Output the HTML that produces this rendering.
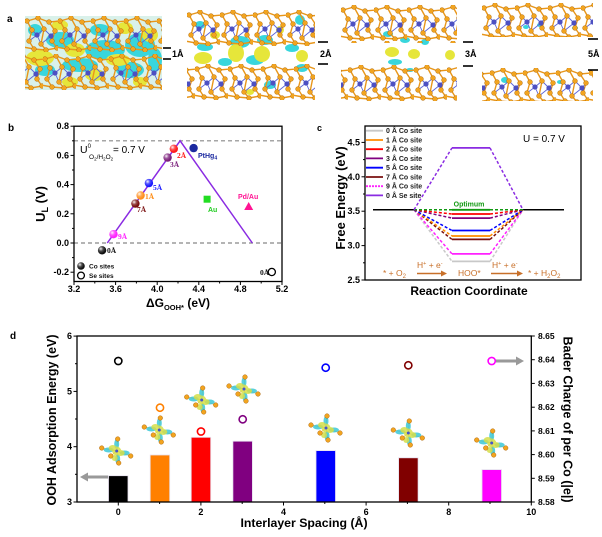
<!DOCTYPE html>
<html><head><meta charset="utf-8"><style>
html,body{margin:0;padding:0;background:#fff;}
svg{display:block;font-family:"Liberation Sans",Arial,sans-serif;}
</style></head><body>
<svg width="602" height="537" viewBox="0 0 602 537" xmlns="http://www.w3.org/2000/svg">
<defs>
<pattern id="lay" x="0" y="0" width="33" height="36" patternUnits="userSpaceOnUse">
 <g stroke="#5a63d8" stroke-width="0.9">
  <line x1="12" y1="19" x2="7" y2="14"/><line x1="12" y1="19" x2="19" y2="13"/><line x1="12" y1="19" x2="4" y2="25"/><line x1="12" y1="19" x2="16" y2="28"/>
  <line x1="26" y1="20" x2="19" y2="13"/><line x1="26" y1="20" x2="30" y2="15"/><line x1="26" y1="20" x2="16" y2="28"/><line x1="26" y1="20" x2="27" y2="25"/>
 </g>
 <g stroke="#e8961a" stroke-width="1.4" fill="none">
  <polyline points="-1,3 2,5 13,2 24,6 35,5"/>
  <line x1="2" y1="5" x2="7" y2="14"/><line x1="13" y1="2" x2="19" y2="13"/><line x1="24" y1="6" x2="30" y2="15"/>
  <line x1="7" y1="14" x2="4" y2="25"/><line x1="19" y1="13" x2="16" y2="28"/><line x1="30" y1="15" x2="27" y2="25"/>
  <line x1="4" y1="25" x2="9" y2="33"/><line x1="16" y1="28" x2="21" y2="34"/><line x1="27" y1="25" x2="32" y2="32"/>
  <polyline points="-2,31 9,33 21,34 32,32 35,33"/>
 </g>
 <g fill="#f2a41f" stroke="#b26c0c" stroke-width="0.5">
  <circle cx="2" cy="5" r="2.4"/><circle cx="13" cy="2" r="2.4"/><circle cx="24" cy="6" r="2.4"/>
  <circle cx="7" cy="14" r="2.4"/><circle cx="19" cy="13" r="2.4"/><circle cx="30" cy="15" r="2.4"/>
  <circle cx="4" cy="25" r="2.4"/><circle cx="16" cy="28" r="2.4"/><circle cx="27" cy="25" r="2.4"/>
  <circle cx="9" cy="33" r="2.4"/><circle cx="21" cy="34" r="2.4"/><circle cx="32" cy="32" r="2.4"/>
 </g>
 <g fill="#4d50c2"><circle cx="12" cy="19" r="2.6"/><circle cx="26" cy="20" r="2.6"/></g>
</pattern>
<radialGradient id="hl" cx="0.35" cy="0.32" r="0.55">
 <stop offset="0" stop-color="#fff" stop-opacity="0.95"/>
 <stop offset="0.5" stop-color="#fff" stop-opacity="0.25"/>
 <stop offset="1" stop-color="#fff" stop-opacity="0"/>
</radialGradient>
<g id="ic">
 <g stroke="#f0b040" stroke-width="0.8"><line x1="0" y1="0" x2="1" y2="-12"/><line x1="0" y1="0" x2="-15" y2="-3"/><line x1="0" y1="0" x2="14" y2="5"/><line x1="0" y1="0" x2="2" y2="12"/><line x1="0" y1="0" x2="-6" y2="5"/></g>
 <g fill="#3cc8d8" opacity="0.85"><ellipse cx="0" cy="-7" rx="2.5" ry="5"/><ellipse cx="1" cy="8" rx="2.5" ry="5"/><ellipse cx="-8" cy="-1" rx="5" ry="2.5"/><ellipse cx="8" cy="2" rx="5" ry="2.5"/></g>
 <g fill="#d6df4a" opacity="0.85"><ellipse cx="-4" cy="-3" rx="4" ry="3"/><ellipse cx="4" cy="2" rx="4" ry="3"/><circle cx="0" cy="0" r="4.5"/><ellipse cx="-2" cy="7" rx="3" ry="3"/></g>
 <circle cx="0" cy="0" r="1.5" fill="#4455cc"/>
 <g fill="#f2a41f" stroke="#b06a10" stroke-width="0.5"><circle cx="1" cy="-12" r="2.3"/><circle cx="-15" cy="-3" r="2.3"/><circle cx="-6" cy="5" r="2.3"/><circle cx="14" cy="5" r="2.3"/><circle cx="2" cy="12" r="2.3"/></g>
</g>
</defs>

<!-- ================= Panel a ================= -->
<text x="7" y="22" font-size="10" font-weight="bold">a</text>
<!-- panel a1 -->
<g>
 <rect x="25" y="16" width="137" height="74" fill="#d9f1ea"/>
 <g fill="#38d6dc">
  <ellipse cx="60" cy="40" rx="14" ry="8"/><ellipse cx="105" cy="50" rx="20" ry="10"/><ellipse cx="140" cy="45" rx="15" ry="12"/>
  <ellipse cx="80" cy="65" rx="18" ry="7"/><ellipse cx="130" cy="70" rx="14" ry="8"/><ellipse cx="45" cy="70" rx="10" ry="6"/>
  <ellipse cx="100" cy="30" rx="10" ry="6"/><ellipse cx="155" cy="60" rx="7" ry="12"/><ellipse cx="35" cy="30" rx="7" ry="6"/>
 </g>
 <g fill="#e6e63a">
  <ellipse cx="40" cy="58" rx="14" ry="8"/><ellipse cx="75" cy="50" rx="10" ry="7"/><ellipse cx="118" cy="60" rx="12" ry="6"/>
  <ellipse cx="95" cy="75" rx="10" ry="6"/><ellipse cx="150" cy="35" rx="8" ry="7"/><ellipse cx="60" cy="25" rx="8" ry="5"/>
  <ellipse cx="125" cy="28" rx="8" ry="6"/><ellipse cx="70" cy="82" rx="8" ry="5"/><ellipse cx="140" cy="82" rx="7" ry="5"/>
 </g>
 <g transform="translate(25,16)"><rect x="0" y="0" width="137" height="36" fill="url(#lay)"/></g>
 <g transform="translate(10,54)"><rect x="15" y="0" width="137" height="36" fill="url(#lay)"/></g>
</g>
<g stroke="#000" stroke-width="1.6"><line x1="163" y1="48" x2="171" y2="48"/><line x1="163" y1="59" x2="171" y2="59"/></g>
<text x="172" y="57" font-size="9" font-weight="bold">1Å</text>
<!-- panel a2 -->
<g>
 <g fill="#38d6dc">
  <ellipse cx="205" cy="47" rx="8" ry="4"/><ellipse cx="240" cy="42" rx="10" ry="6"/><ellipse cx="265" cy="40" rx="8" ry="5"/>
  <ellipse cx="292" cy="48" rx="7" ry="4"/><ellipse cx="225" cy="62" rx="7" ry="4"/><ellipse cx="255" cy="60" rx="9" ry="5"/>
  <ellipse cx="302" cy="68" rx="6" ry="4"/><ellipse cx="200" cy="25" rx="5" ry="4"/><ellipse cx="300" cy="20" rx="5" ry="5"/><ellipse cx="270" cy="85" rx="6" ry="4"/>
 </g>
 <g fill="#e6e63a">
  <ellipse cx="203" cy="58" rx="9" ry="6"/><ellipse cx="236" cy="53" rx="8" ry="9"/><ellipse cx="262" cy="54" rx="8" ry="8"/>
  <ellipse cx="302" cy="56" rx="6" ry="6"/><ellipse cx="215" cy="35" rx="5" ry="4"/><ellipse cx="280" cy="30" rx="4" ry="4"/><ellipse cx="250" cy="92" rx="4" ry="3"/>
 </g>
 <g transform="translate(187,10)"><rect x="0" y="0" width="128" height="36" fill="url(#lay)"/></g>
 <g transform="translate(195,64)"><rect x="-8" y="0" width="128" height="36" fill="url(#lay)"/></g>
</g>
<g stroke="#000" stroke-width="1.6"><line x1="318" y1="42" x2="328" y2="42"/><line x1="318" y1="64" x2="328" y2="64"/></g>
<text x="320" y="57" font-size="9" font-weight="bold">2Å</text>
<!-- panel a3 -->
<g>
 <g fill="#38d6dc"><ellipse cx="395" cy="62" rx="7" ry="3"/><ellipse cx="405" cy="40" rx="5" ry="3"/><ellipse cx="388" cy="34" rx="5" ry="3"/><ellipse cx="425" cy="42" rx="4" ry="3"/><ellipse cx="410" cy="70" rx="4" ry="2"/></g>
 <g fill="#e6e63a"><ellipse cx="392" cy="52" rx="7" ry="5"/><ellipse cx="414" cy="54" rx="6" ry="5"/><ellipse cx="450" cy="55" rx="5" ry="5"/></g>
 <g transform="translate(341,5)"><rect x="0" y="0" width="116" height="38" fill="url(#lay)"/></g>
 <g transform="translate(348,65)"><rect x="-7" y="0" width="116" height="36" fill="url(#lay)"/></g>
</g>
<g stroke="#000" stroke-width="1.6"><line x1="463" y1="42" x2="473" y2="42"/><line x1="463" y1="66" x2="473" y2="66"/></g>
<text x="465" y="57" font-size="9" font-weight="bold">3Å</text>
<!-- panel a4 -->
<g>
 <g fill="#38d6dc"><ellipse cx="526" cy="27" rx="3" ry="2"/><ellipse cx="540" cy="25" rx="3" ry="2"/><ellipse cx="575" cy="28" rx="3" ry="2"/><ellipse cx="505" cy="80" rx="4" ry="3"/><ellipse cx="560" cy="82" rx="3" ry="2"/></g>
 <g transform="translate(482,3)"><rect x="0" y="0" width="111" height="34" fill="url(#lay)"/></g>
 <g transform="translate(490,68)"><rect x="-8" y="0" width="111" height="33" fill="url(#lay)"/></g>
</g>
<g stroke="#000" stroke-width="1.6"><line x1="588" y1="39" x2="598" y2="39"/><line x1="588" y1="70" x2="598" y2="70"/></g>
<text x="588" y="57" font-size="9" font-weight="bold">5Å</text>

<!-- ================= Panel b ================= -->
<text x="8" y="131" font-size="10" font-weight="bold">b</text>
<g stroke="#888" stroke-width="1.2" stroke-dasharray="4,3">
 <line x1="74" y1="140.8" x2="282" y2="140.8"/><line x1="74" y1="243" x2="282" y2="243"/>
</g>
<polyline points="107.3,243 180.1,140.8 252.3,243" fill="none" stroke="#8a2be2" stroke-width="1.5"/>
<rect x="74" y="126.2" width="208" height="155.3" fill="none" stroke="#000" stroke-width="1.3"/>
<g stroke="#000" stroke-width="1">
 <line x1="74" y1="272.2" x2="70.5" y2="272.2"/><line x1="74" y1="243" x2="70.5" y2="243"/><line x1="74" y1="213.8" x2="70.5" y2="213.8"/>
 <line x1="74" y1="184.6" x2="70.5" y2="184.6"/><line x1="74" y1="155.4" x2="70.5" y2="155.4"/><line x1="74" y1="126.2" x2="70.5" y2="126.2"/>
 <line x1="74" y1="257.6" x2="72" y2="257.6"/><line x1="74" y1="228.4" x2="72" y2="228.4"/><line x1="74" y1="199.2" x2="72" y2="199.2"/><line x1="74" y1="170" x2="72" y2="170"/><line x1="74" y1="140.8" x2="72" y2="140.8"/>
 <line x1="74" y1="281.5" x2="74" y2="285"/><line x1="115.6" y1="281.5" x2="115.6" y2="285"/><line x1="157.2" y1="281.5" x2="157.2" y2="285"/>
 <line x1="198.8" y1="281.5" x2="198.8" y2="285"/><line x1="240.4" y1="281.5" x2="240.4" y2="285"/><line x1="282" y1="281.5" x2="282" y2="285"/>
 <line x1="94.8" y1="281.5" x2="94.8" y2="283.5"/><line x1="136.4" y1="281.5" x2="136.4" y2="283.5"/><line x1="178" y1="281.5" x2="178" y2="283.5"/><line x1="219.6" y1="281.5" x2="219.6" y2="283.5"/><line x1="261.2" y1="281.5" x2="261.2" y2="283.5"/>
</g>
<g font-size="9" font-weight="bold" text-anchor="end">
 <text x="69" y="275.2">-0.2</text><text x="69" y="246">0.0</text><text x="69" y="216.8">0.2</text>
 <text x="69" y="187.6">0.4</text><text x="69" y="158.4">0.6</text><text x="69" y="129.2">0.8</text>
</g>
<g font-size="9" font-weight="bold" text-anchor="middle">
 <text x="74" y="292">3.2</text><text x="115.6" y="292">3.6</text><text x="157.2" y="292">4.0</text>
 <text x="198.8" y="292">4.4</text><text x="240.4" y="292">4.8</text><text x="282" y="292">5.2</text>
</g>
<text transform="translate(45,204) rotate(-90)" font-size="13" font-weight="bold" text-anchor="middle">U<tspan font-size="9" dy="3">L</tspan><tspan dy="-3"> (V)</tspan></text>
<text x="178" y="307" font-size="12" font-weight="bold" text-anchor="middle">ΔG<tspan font-size="7.5" dy="3">OOH*</tspan><tspan dy="-3"> (eV)</tspan></text>
<text x="80" y="153" font-size="10.5">U<tspan font-size="6" dy="-5">0</tspan></text>
<text x="89" y="159" font-size="6.5">O<tspan font-size="4.5" dy="1.5">2</tspan><tspan dy="-1.5">/H</tspan><tspan font-size="4.5" dy="1.5">2</tspan><tspan dy="-1.5">O</tspan><tspan font-size="4.5" dy="1.5">2</tspan></text>
<text x="113" y="153" font-size="10">= 0.7 V</text>
<!-- data markers -->
<g>
 <circle cx="173.8" cy="148.8" r="4.2" fill="#ff1a1a"/><circle cx="173.8" cy="148.8" r="4.2" fill="url(#hl)"/>
 <circle cx="167.6" cy="157.6" r="4.2" fill="#7b1f7b"/><circle cx="167.6" cy="157.6" r="4.2" fill="url(#hl)"/>
 <circle cx="193.6" cy="148.1" r="4.2" fill="#1c2aa0"/>
 <circle cx="148.9" cy="183.1" r="4.2" fill="#1a1aff"/><circle cx="148.9" cy="183.1" r="4.2" fill="url(#hl)"/>
 <circle cx="140.6" cy="195.5" r="4.2" fill="#ff9020"/><circle cx="140.6" cy="195.5" r="4.2" fill="url(#hl)"/>
 <circle cx="135.4" cy="203.6" r="4.2" fill="#7a1010"/><circle cx="135.4" cy="203.6" r="4.2" fill="url(#hl)"/>
 <circle cx="113.5" cy="234.2" r="4.2" fill="#ff22ff"/><circle cx="113.5" cy="234.2" r="4.2" fill="url(#hl)"/>
 <circle cx="102.1" cy="250.3" r="4.2" fill="#111"/><circle cx="102.1" cy="250.3" r="4.2" fill="url(#hl)"/>
 <rect x="203.6" y="195.7" width="7" height="7" fill="#22dd22"/>
 <polygon points="248.7,202 253.2,210 244.2,210" fill="#ff1493"/>
 <circle cx="271.8" cy="272" r="3.6" fill="none" stroke="#000" stroke-width="1.3"/>
 <circle cx="81" cy="266" r="3.8" fill="#111"/><circle cx="81" cy="266" r="3.8" fill="url(#hl)"/>
 <circle cx="81" cy="275.5" r="3.4" fill="none" stroke="#000" stroke-width="1.3"/>
</g>
<g font-size="7.5" font-weight="bold" font-family="Liberation Serif, serif">
 <text x="177" y="158" fill="#ff1a1a">2Å</text>
 <text x="170" y="167" fill="#7b1f7b">3Å</text>
 <text x="153" y="190" fill="#1a1aff">5Å</text>
 <text x="145" y="199" fill="#ff8a10">1Å</text>
 <text x="137" y="212" fill="#7a1010">7Å</text>
 <text x="118" y="239" fill="#ff22ff">9Å</text>
 <text x="107" y="253" fill="#111">0Å</text>
 <text x="260" y="275" fill="#111">0Å</text>
</g>
<g font-size="7" font-weight="bold">
 <text x="198" y="158" fill="#1c2aa0">PtHg<tspan font-size="5" dy="1.5">4</tspan></text>
 <text x="208" y="212" fill="#22cc22">Au</text>
 <text x="238" y="199" fill="#ff1493">Pd/Au</text>
 <text x="89" y="268.5" font-size="6.5" fill="#111">Co sites</text>
 <text x="89" y="278" font-size="6.5" fill="#111">Se sites</text>
</g>

<!-- ================= Panel c ================= -->
<text x="317" y="131" font-size="9" font-weight="bold">c</text>
<g stroke="#000" stroke-width="1.5"><line x1="373" y1="209.8" x2="414" y2="209.8"/><line x1="523" y1="209.8" x2="564" y2="209.8"/></g>
<g fill="none" stroke-width="1.5" stroke-dasharray="3,2">
 <polyline stroke="#c8c8c8" points="414,209.8 452,261.4"/><polyline stroke="#c8c8c8" points="490,261.4 523,209.8"/>
 <polyline stroke="#ff22ff" points="414,209.8 452,253.9"/><polyline stroke="#ff22ff" points="490,253.9 523,209.8"/>
 <polyline stroke="#7a1010" points="414,209.8 452,239.4"/><polyline stroke="#7a1010" points="490,239.4 523,209.8"/>
 <polyline stroke="#ff8c00" points="414,209.8 452,236"/><polyline stroke="#ff8c00" points="490,236 523,209.8"/>
 <polyline stroke="#0000ff" points="414,209.8 452,230.5"/><polyline stroke="#0000ff" points="490,230.5 523,209.8"/>
 <polyline stroke="#800080" points="414,209.8 452,218.1"/><polyline stroke="#800080" points="490,218.1 523,209.8"/>
 <polyline stroke="#ff0000" points="414,209.8 452,214"/><polyline stroke="#ff0000" points="490,214 523,209.8"/>
 <polyline stroke="#119911" points="414,209.8 452,209.8"/><polyline stroke="#119911" points="490,209.8 523,209.8"/>
 <polyline stroke="#8a2be2" points="414,209.8 452,147.9"/><polyline stroke="#8a2be2" points="490,147.9 523,209.8"/>
</g>
<g stroke-width="1.8">
 <line x1="452" y1="261.4" x2="490" y2="261.4" stroke="#c8c8c8"/>
 <line x1="452" y1="253.9" x2="490" y2="253.9" stroke="#ff22ff"/>
 <line x1="452" y1="239.4" x2="490" y2="239.4" stroke="#7a1010"/>
 <line x1="452" y1="236" x2="490" y2="236" stroke="#ff8c00"/>
 <line x1="452" y1="230.5" x2="490" y2="230.5" stroke="#0000ff"/>
 <line x1="452" y1="218.1" x2="490" y2="218.1" stroke="#800080"/>
 <line x1="452" y1="214" x2="490" y2="214" stroke="#ff0000"/>
 <line x1="452" y1="209.8" x2="490" y2="209.8" stroke="#119911"/>
 <line x1="452" y1="147.9" x2="490" y2="147.9" stroke="#8a2be2"/>
</g>
<text x="469" y="206.5" font-size="7" font-weight="bold" fill="#119911" text-anchor="middle">Optimum</text>
<rect x="365" y="126" width="216" height="154" fill="none" stroke="#000" stroke-width="1.3"/>
<g stroke="#000" stroke-width="1">
 <line x1="365" y1="280" x2="361.5" y2="280"/><line x1="365" y1="245.6" x2="361.5" y2="245.6"/><line x1="365" y1="211.2" x2="361.5" y2="211.2"/>
 <line x1="365" y1="176.8" x2="361.5" y2="176.8"/><line x1="365" y1="142.4" x2="361.5" y2="142.4"/>
 <line x1="365" y1="262.8" x2="363" y2="262.8"/><line x1="365" y1="228.4" x2="363" y2="228.4"/><line x1="365" y1="194" x2="363" y2="194"/><line x1="365" y1="159.6" x2="363" y2="159.6"/>
</g>
<g font-size="9" font-weight="bold" text-anchor="end">
 <text x="360" y="283">2.5</text><text x="360" y="248.6">3.0</text><text x="360" y="214.2">3.5</text><text x="360" y="179.8">4.0</text><text x="360" y="145.4">4.5</text>
</g>
<text transform="translate(345,198) rotate(-90)" font-size="13" font-weight="bold" text-anchor="middle">Free Energy (eV)</text>
<text x="469" y="295" font-size="12" font-weight="bold" text-anchor="middle">Reaction Coordinate</text>
<text x="523" y="142" font-size="10">U = 0.7 V</text>
<!-- legend c -->
<g stroke-width="1.8">
 <line x1="366" y1="130.7" x2="383" y2="130.7" stroke="#c8c8c8"/>
 <line x1="366" y1="140" x2="383" y2="140" stroke="#ff8c00"/>
 <line x1="366" y1="149.2" x2="383" y2="149.2" stroke="#ff0000"/>
 <line x1="366" y1="158.4" x2="383" y2="158.4" stroke="#800080"/>
 <line x1="366" y1="167.7" x2="383" y2="167.7" stroke="#0000ff"/>
 <line x1="366" y1="177" x2="383" y2="177" stroke="#7a1010"/>
 <line x1="366" y1="186.2" x2="383" y2="186.2" stroke="#ff22ff" stroke-dasharray="2,1"/>
 <line x1="366" y1="195.4" x2="383" y2="195.4" stroke="#8a2be2"/>
</g>
<g font-size="7" font-weight="bold" fill="#222">
 <text x="386" y="133.2">0 Å Co site</text><text x="386" y="142.5">1 Å Co site</text><text x="386" y="151.7">2 Å Co site</text>
 <text x="386" y="160.9">3 Å Co site</text><text x="386" y="170.2">5 Å Co site</text><text x="386" y="179.5">7 Å Co site</text>
 <text x="386" y="188.7">9 Å Co site</text><text x="386" y="197.9">0 Å Se site</text>
</g>
<!-- reaction annotations -->
<g fill="#c8702a" font-size="8.5">
 <text x="383" y="276">* + O<tspan font-size="6" dy="2">2</tspan></text>
 <text x="417" y="268">H<tspan font-size="5.5" dy="-3">+</tspan><tspan dy="3"> + e</tspan><tspan font-size="5.5" dy="-3">-</tspan></text>
 <text x="458" y="276">HOO*</text>
 <text x="492" y="268">H<tspan font-size="5.5" dy="-3">+</tspan><tspan dy="3"> + e</tspan><tspan font-size="5.5" dy="-3">-</tspan></text>
 <text x="528" y="276">* + H<tspan font-size="6" dy="2">2</tspan><tspan dy="-2">O</tspan><tspan font-size="6" dy="2">2</tspan></text>
</g>
<g stroke="#c8702a" stroke-width="1.5"><line x1="417" y1="273.5" x2="442" y2="273.5"/><line x1="491" y1="273.5" x2="518" y2="273.5"/></g>
<g fill="#c8702a"><polygon points="447,273.5 441,270.5 441,276.5"/><polygon points="523,273.5 517,270.5 517,276.5"/></g>

<!-- ================= Panel d ================= -->
<text x="10" y="339" font-size="10" font-weight="bold">d</text>
<!-- bars -->
<g stroke="#e6e0ee" stroke-width="0.8">
 <rect x="108.5" y="475.7" width="19.5" height="26.3" fill="#000000"/>
 <rect x="150.2" y="455" width="19.5" height="47" fill="#ff8000"/>
 <rect x="191.2" y="437.3" width="19.5" height="64.7" fill="#ff0000"/>
 <rect x="232.9" y="441.2" width="19.5" height="60.8" fill="#800080"/>
 <rect x="316" y="450.6" width="19.5" height="51.4" fill="#0000ff"/>
 <rect x="398.6" y="457.8" width="19.5" height="44.2" fill="#800000"/>
 <rect x="482" y="469.6" width="19.5" height="32.4" fill="#ff00ff"/>
</g>
<!-- icons -->
<use href="#ic" x="116.7" y="451"/>
<use href="#ic" x="159.3" y="430"/>
<use href="#ic" x="201.7" y="400"/>
<use href="#ic" x="244" y="389"/>
<use href="#ic" x="326" y="428"/>
<use href="#ic" x="408.3" y="433"/>
<use href="#ic" x="491.7" y="443"/>
<!-- bader circles -->
<g fill="none" stroke-width="1.6">
 <circle cx="118.3" cy="361" r="3.6" stroke="#000"/>
 <circle cx="160" cy="407.7" r="3.6" stroke="#ff8000"/>
 <circle cx="201" cy="431.5" r="3.6" stroke="#ff0000"/>
 <circle cx="242.7" cy="419.3" r="3.6" stroke="#800080"/>
 <circle cx="325.7" cy="367.7" r="3.6" stroke="#0000ff"/>
 <circle cx="408.3" cy="365.3" r="3.6" stroke="#800000"/>
 <circle cx="491.7" cy="361" r="3.6" stroke="#ff00ff"/>
</g>
<!-- gray arrows -->
<g stroke="#999" stroke-width="3"><line x1="108" y1="477" x2="86" y2="477"/><line x1="496" y1="361" x2="517" y2="361"/></g>
<g fill="#999"><polygon points="80,477 88,472.5 88,481.5"/><polygon points="524,361 516,356.5 516,365.5"/></g>
<rect x="77" y="336" width="454.3" height="166" fill="none" stroke="#000" stroke-width="1.3"/>
<g stroke="#000" stroke-width="1">
 <line x1="77" y1="502" x2="73.5" y2="502"/><line x1="77" y1="446.7" x2="73.5" y2="446.7"/><line x1="77" y1="391.4" x2="73.5" y2="391.4"/><line x1="77" y1="336.1" x2="73.5" y2="336.1"/>
 <line x1="77" y1="474.3" x2="75" y2="474.3"/><line x1="77" y1="419" x2="75" y2="419"/><line x1="77" y1="363.7" x2="75" y2="363.7"/>
 <line x1="118.3" y1="502" x2="118.3" y2="505.5"/><line x1="200.9" y1="502" x2="200.9" y2="505.5"/><line x1="283.5" y1="502" x2="283.5" y2="505.5"/>
 <line x1="366.1" y1="502" x2="366.1" y2="505.5"/><line x1="448.7" y1="502" x2="448.7" y2="505.5"/><line x1="531.3" y1="502" x2="531.3" y2="505.5"/>
 <line x1="159.6" y1="502" x2="159.6" y2="504"/><line x1="242.2" y1="502" x2="242.2" y2="504"/><line x1="324.8" y1="502" x2="324.8" y2="504"/><line x1="407.4" y1="502" x2="407.4" y2="504"/><line x1="490" y1="502" x2="490" y2="504"/>
 <line x1="531.3" y1="502" x2="534.8" y2="502"/><line x1="531.3" y1="478.3" x2="534.8" y2="478.3"/><line x1="531.3" y1="454.6" x2="534.8" y2="454.6"/>
 <line x1="531.3" y1="430.9" x2="534.8" y2="430.9"/><line x1="531.3" y1="407.2" x2="534.8" y2="407.2"/><line x1="531.3" y1="383.4" x2="534.8" y2="383.4"/>
 <line x1="531.3" y1="359.7" x2="534.8" y2="359.7"/><line x1="531.3" y1="336" x2="534.8" y2="336"/>
</g>
<g font-size="9" font-weight="bold" text-anchor="end">
 <text x="72" y="505">3</text><text x="72" y="449.7">4</text><text x="72" y="394.4">5</text><text x="72" y="339.1">6</text>
</g>
<g font-size="9" font-weight="bold" text-anchor="middle">
 <text x="118.3" y="515">0</text><text x="200.9" y="515">2</text><text x="283.5" y="515">4</text>
 <text x="366.1" y="515">6</text><text x="448.7" y="515">8</text><text x="531.3" y="515">10</text>
</g>
<g font-size="8.5" font-weight="bold">
 <text x="538" y="505">8.58</text><text x="538" y="481.3">8.59</text><text x="538" y="457.6">8.60</text><text x="538" y="433.9">8.61</text>
 <text x="538" y="410.2">8.62</text><text x="538" y="386.4">8.63</text><text x="538" y="362.7">8.64</text><text x="538" y="339">8.65</text>
</g>
<text transform="translate(56,420) rotate(-90)" font-size="12.5" font-weight="bold" text-anchor="middle">OOH Adsorption Energy (eV)</text>
<text transform="translate(563.5,419.5) rotate(90)" font-size="12.5" font-weight="bold" text-anchor="middle">Bader Charge of per Co (|e|)</text>
<text x="304" y="527" font-size="12.3" font-weight="bold" text-anchor="middle">Interlayer Spacing (Å)</text>
</svg>
</body></html>
